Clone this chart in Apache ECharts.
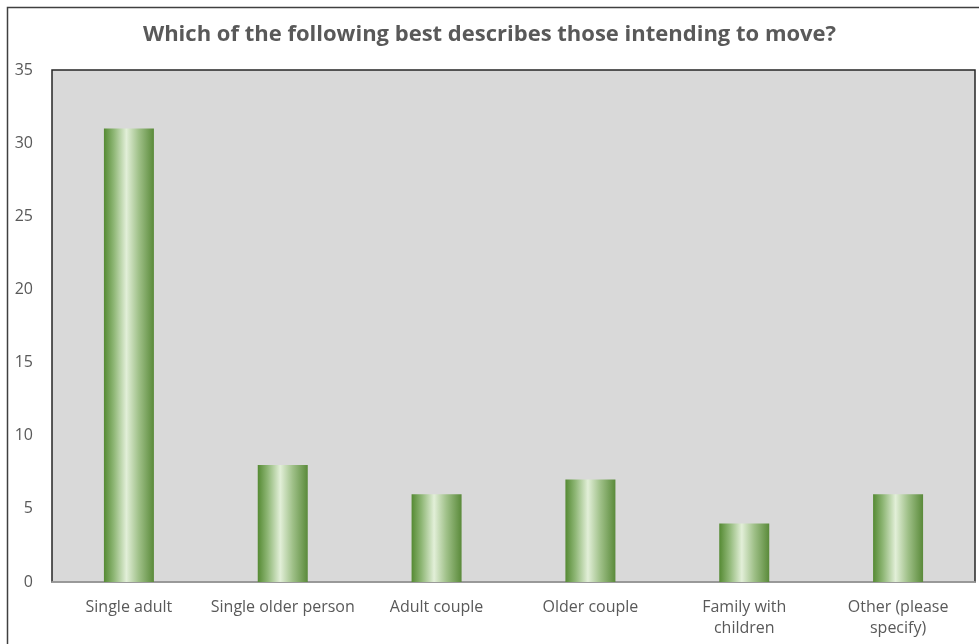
<!DOCTYPE html>
<html>
<head>
<meta charset="utf-8">
<script src="https://cdn.jsdelivr.net/npm/echarts@6/dist/echarts.min.js"></script>
<style>
  html, body { margin: 0; padding: 0; background: #ffffff; }
  #chart { width: 979px; height: 644px; }
</style>
</head>
<body>
<div id="chart"></div>
<script>
// Household types of respondents who intend to move
var titleText = 'Which of the following best describes those intending to move?';
var categories = ['Single adult', 'Single older person', 'Adult couple', 'Older couple', 'Family with\nchildren', 'Other (please\nspecify)'];
var counts = [31, 8, 6, 7, 4, 6];
var yTicks = { min: 0, max: 35, interval: 5 };

var font = '"Open Sans", "Noto Sans", sans-serif';

// Cylinder-like horizontal shading of each bar
var barFill = new echarts.graphic.LinearGradient(0, 0, 1, 0, [
  { offset: 0, color: '#558a33' },
  { offset: 0.2, color: '#8fb776' },
  { offset: 0.45, color: '#e2efd8' },
  { offset: 0.7, color: '#9fc088' },
  { offset: 1, color: '#5a8a3a' }
]);

var chart = echarts.init(document.getElementById('chart'));
chart.setOption({
  backgroundColor: '#ffffff',
  animation: false,
  title: {
    text: titleText,
    left: 'center',
    top: 19,
    textStyle: { fontFamily: font, fontSize: 22, fontWeight: 'bold', color: '#595959' }
  },
  graphic: [{
    type: 'rect',
    shape: { x: 7.5, y: 7.5, width: 990, height: 660 },
    style: { fill: 'none', stroke: '#404040', lineWidth: 1.5 },
    silent: true,
    z: 100
  }],
  grid: {
    left: 52,
    right: 4,
    top: 70,
    bottom: 62,
    show: true,
    backgroundColor: '#d9d9d9',
    borderColor: '#262626',
    borderWidth: 1.5
  },
  xAxis: {
    type: 'category',
    data: categories,
    axisLine: { show: true, lineStyle: { color: '#b0b0b0', width: 1.5 } },
    axisTick: { show: false },
    axisLabel: {
      interval: 0,
      margin: 15,
      fontFamily: font,
      fontSize: 16,
      lineHeight: 21,
      color: '#595959'
    }
  },
  yAxis: {
    type: 'value',
    min: yTicks.min,
    max: yTicks.max,
    interval: yTicks.interval,
    axisLine: { show: false },
    axisTick: { show: false },
    splitLine: { show: false },
    axisLabel: {
      margin: 19,
      fontFamily: font,
      fontSize: 16,
      color: '#595959'
    }
  },
  series: [{
    type: 'bar',
    data: counts,
    barWidth: 50,
    itemStyle: { color: barFill }
  }]
});
</script>
</body>
</html>
